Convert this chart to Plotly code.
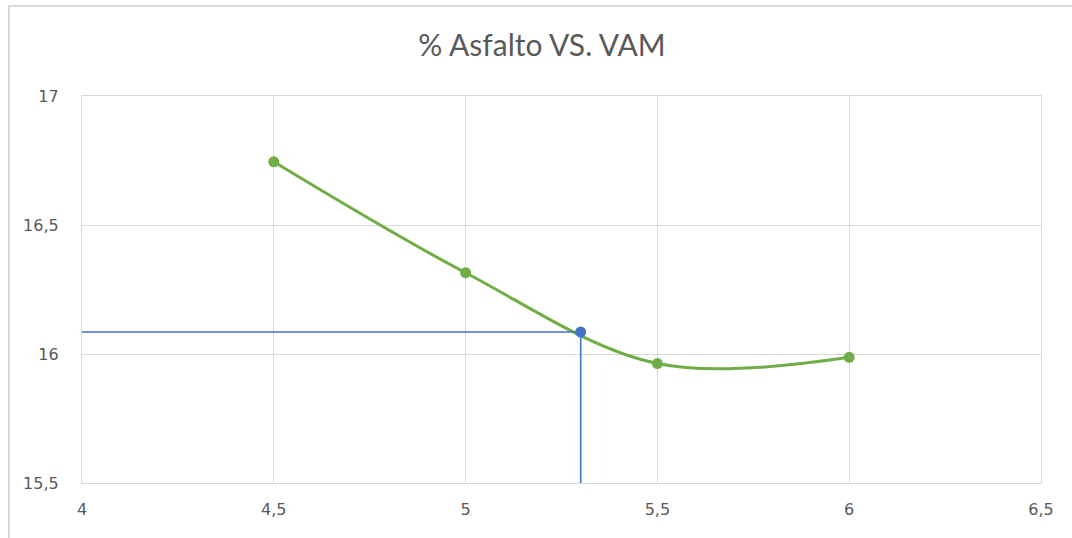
import plotly.graph_objects as go

# % de asfalto vs. vacíos en el agregado mineral (VAM)
asfalto = [4.5, 5.0, 5.5, 6.0]
vam = [16.745, 16.315, 15.963, 15.987]

# Punto de diseño
asfalto_opt = [5.3]
vam_opt = [16.085]

x_ticks = [4, 4.5, 5, 5.5, 6, 6.5]
y_ticks = [15.5, 16, 16.5, 17]

x_min, y_min = 4, 15.5

GREEN = "#70AD47"
BLUE = "#4472C4"
GRID = "#D9D9D9"
TEXT = "#595959"

fig = go.Figure()

fig.add_trace(go.Scatter(
    x=asfalto, y=vam, mode="lines+markers",
    line=dict(color=GREEN, width=3, shape="spline", smoothing=1.0),
    marker=dict(color=GREEN, size=11),
    showlegend=False, cliponaxis=False,
))

# Líneas de lectura hacia los ejes como barras de error del punto de diseño
fig.add_trace(go.Scatter(
    x=asfalto_opt, y=vam_opt, mode="markers",
    marker=dict(color=BLUE, size=11),
    error_x=dict(type="data", symmetric=False, array=[0],
                 arrayminus=[v - x_min for v in asfalto_opt],
                 color=BLUE, thickness=1.6, width=0),
    error_y=dict(type="data", symmetric=False, array=[0],
                 arrayminus=[v - y_min + 0.02 for v in vam_opt],
                 color=BLUE, thickness=1.6, width=0),
    showlegend=False, cliponaxis=False,
))

axis_common = dict(
    showgrid=True, gridcolor=GRID, gridwidth=1.3,
    showline=True, linecolor=GRID, linewidth=1.3, mirror=True,
    zeroline=False, ticks="",
    tickfont=dict(family="DejaVu Sans", size=16, color=TEXT),
)

fig.update_xaxes(range=[4, 6.5], tickvals=x_ticks, ticklabelstandoff=12, **axis_common)
fig.update_yaxes(range=[15.5, 17], tickvals=y_ticks, ticklabelstandoff=19, **axis_common)

fig.update_layout(
    width=1072, height=538,
    margin=dict(l=82, r=31, t=96, b=55),
    paper_bgcolor="white", plot_bgcolor="white",
    separators=", ",
    title=dict(text="% Asfalto VS. VAM", x=542 / 1072, xref="container", xanchor="center",
               y=1 - 45 / 538, yanchor="middle",
               font=dict(family="Lato", size=30, color=TEXT)),
    shapes=[dict(type="rect", xref="paper", yref="paper",
                 x0=(9 - 82) / 959, x1=1.1, y0=-0.3, y1=(483 - 6) / 387,
                 line=dict(color=GRID, width=2), layer="below")],
)

fig.write_html("out.html")
